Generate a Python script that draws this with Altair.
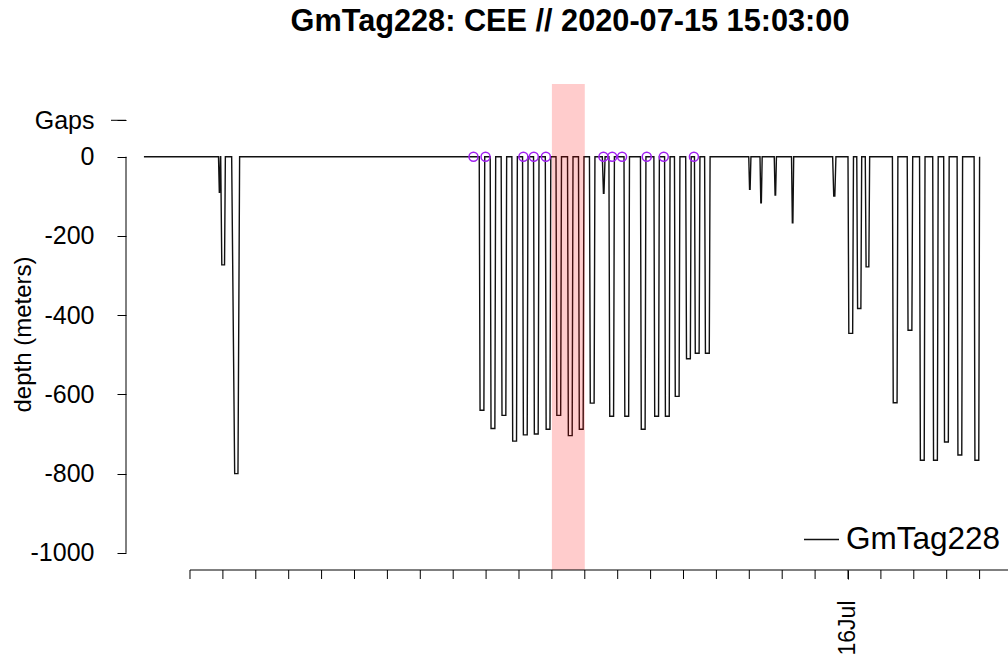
import altair as alt
import pandas as pd

TITLE = "GmTag228: CEE // 2020-07-15 15:03:00"
TAG = "GmTag228"
DAY0 = pd.Timestamp("2020-07-15 00:00:00")
FONT = "Liberation Sans"

# All times are minutes after 2020-07-15 00:00 (local time).
record_start = 156

# One entry per dive: leave surface, reach bottom, leave bottom, back at surface, max depth (m)
dive_leave = [292, 296, 316,
              767.5, 787.5, 807.5, 827, 846.5, 866.5, 888, 907.5, 928.5, 948.5, 968.5,
              992, 1004, 1031.5, 1061.5, 1086, 1105.5, 1123.5, 1144, 1160, 1178.5,
              1259, 1279.5, 1305.5, 1337, 1412, 1440, 1456, 1471.5, 1521, 1548,
              1570.5, 1594.5, 1614.5, 1639, 1670]
dive_bottom_in = [293.5, 298, 321.5,
                  769, 789, 809, 828.5, 848, 868, 889.5, 909, 930, 950, 970,
                  994, 1005.5, 1033, 1063, 1087.5, 1107, 1125, 1145.5, 1161.5, 1180,
                  1260.5, 1281, 1307, 1338.5, 1414, 1441.5, 1457.5, 1473, 1522.5, 1549.5,
                  1572, 1596, 1616, 1640.5, 1671.5]
dive_bottom_out = [294, 303, 327.5,
                   776, 796, 816, 835.5, 855, 875, 896.5, 916, 937, 957, 977,
                   995, 1012.5, 1040, 1070, 1094.5, 1114, 1132, 1152.5, 1168.5, 1187,
                   1261.5, 1282, 1308, 1339.5, 1416, 1448.5, 1463.5, 1478, 1529.5, 1556.5,
                   1579, 1603, 1623, 1647.5, 1678.5]
dive_return = [295.5, 304.5, 330.5,
               777.5, 797.5, 817.5, 837, 856.5, 876.5, 898, 917.5, 938.5, 958.5, 978.5,
               997, 1014, 1041.5, 1071.5, 1096, 1115.5, 1133.5, 1154, 1170, 1188.5,
               1263, 1283.5, 1309.5, 1341, 1418, 1450, 1465, 1479.5, 1531, 1558,
               1580.5, 1604.5, 1624.5, 1649, 1680]
dive_max = [-90, -273, -800,
            -640, -686, -653, -718, -702, -700, -688, -653, -704, -688, -622,
            -92, -655, -655, -688, -655, -655, -605, -510, -496, -496,
            -82, -116, -97, -167, -99, -446, -383, -278, -621, -438,
            -766, -766, -720, -753, -766]

# Transmission gaps, marked on the surface line
gap_minutes = [757, 779, 848, 867, 889, 994, 1010, 1028, 1073, 1104, 1159]

# Highlighted hour and the plotting window
highlight_from, highlight_to = 900, 960
window_from, window_to = 123.3, 1731.8

# Hour marks along the time axis (hours after 2020-07-15 00:00)
hour_marks = list(range(4, 29))

y_ticks = [0, -200, -400, -600, -800, -1000]
gaps_level = 92


def stamp(minutes):
    return (DAY0 + pd.to_timedelta(minutes, unit="m")).strftime("%Y-%m-%dT%H:%M:%S")


def dt(minutes):
    ts = DAY0 + pd.to_timedelta(minutes, unit="m")
    return alt.DateTime(year=ts.year, month=ts.month, date=ts.day,
                        hours=ts.hour, minutes=ts.minute, seconds=ts.second)


rows = [(record_start, 0.0)]
for a, b, c, d, depth in zip(dive_leave, dive_bottom_in, dive_bottom_out, dive_return, dive_max):
    rows += [(a, 0.0), (b, depth), (c, depth), (d, 0.0)]
track = pd.DataFrame({
    "time": [stamp(m) for m, _ in rows],
    "depth": [v for _, v in rows],
    "i": range(len(rows)),
    "tag": TAG,
})
gaps = pd.DataFrame({"time": [stamp(m) for m in gap_minutes], "depth": 0.0})
hours_df = pd.DataFrame({"time": [stamp(60 * h) for h in hour_marks]})

W, H = 882, 486

x_scale = alt.Scale(domain=[dt(window_from), dt(window_to)])
y_scale = alt.Scale(domain=[-1043.2, 183.6], nice=False, zero=False)

x_axis = alt.Axis(values=[dt(24 * 60)], labelExpr="timeFormat(datum.value, '%d%b')",
                  labelAngle=270, labelFontSize=23, labelFont=FONT, labelColor="black",
                  labelPadding=21, tickSize=9, tickColor="black", tickWidth=1,
                  domain=False, grid=False, title=None, labelOverlap=False, labelFlush=False)
y_axis = alt.Axis(values=[gaps_level] + y_ticks,
                  labelExpr="datum.value > 50 ? 'Gaps' : '' + datum.value",
                  labelFontSize=25, labelFont=FONT, labelColor="black", labelPadding=23,
                  tickSize=9, tickColor="black", tickWidth=1, domain=False, grid=False,
                  title="depth (meters)", titleFontSize=24, titleFont=FONT, titleFontWeight="normal",
                  titleColor="black", titleAngle=270, titleX=-103, titleY=250,
                  titleAlign="center", titleBaseline="middle", labelOverlap=False)

line = alt.Chart(track).mark_line(strokeWidth=1.4, interpolate="linear", color="black").encode(
    x=alt.X("time:T", scale=x_scale, axis=x_axis),
    y=alt.Y("depth:Q", scale=y_scale, axis=y_axis),
    order="i:Q",
    color=alt.Color("tag:N", scale=alt.Scale(range=["#111111"]),
                    legend=alt.Legend(title=None, orient="none", legendX=677, legendY=437,
                                      symbolType="stroke", symbolSize=1225, symbolStrokeWidth=1.3,
                                      symbolStrokeColor="black", labelFontSize=31.5, labelFont=FONT,
                                      labelColor="black", labelOffset=6, padding=0)),
)

gap_marks = alt.Chart(gaps).mark_point(shape="circle", filled=False, color="#A020F0",
                                       size=81, strokeWidth=1.5, opacity=1).encode(
    x="time:T", y="depth:Q")

shade = alt.Chart().mark_rect(color="red", opacity=0.2).encode(
    x=alt.datum(dt(highlight_from)), x2=alt.datum(dt(highlight_to)),
    y=alt.value(0), y2=alt.value(H))

hour_ticks = alt.Chart(hours_df).mark_rule(color="black", strokeWidth=1).encode(
    x="time:T", y=alt.value(H), y2=alt.value(H + 9))

y_line = alt.Chart().mark_rule(color="black", strokeWidth=1).encode(
    x=alt.value(0), y=alt.datum(0), y2=alt.datum(-1000))
gaps_tick = alt.Chart().mark_rule(color="black", strokeWidth=1).encode(
    x=alt.value(-15), x2=alt.value(0), y=alt.datum(gaps_level))
x_line = alt.Chart().mark_rule(color="black", strokeWidth=1).encode(
    x=alt.datum(dt(240)), x2=alt.value(W), y=alt.value(H))

chart = alt.layer(line, gap_marks, shade, hour_ticks, y_line, gaps_tick, x_line).properties(
    width=W, height=H,
    title=alt.TitleParams(TITLE, fontSize=30.7, fontWeight="bold", font=FONT, color="black",
                          anchor="middle", offset=46, dx=3),
    autosize=alt.AutoSizeParams(type="none"),
    padding={"left": 126, "top": 84, "right": 0, "bottom": 94},
).configure(font=FONT).configure_view(strokeWidth=0, stroke="transparent")

chart.save("out.html", embed_options={"renderer": "svg", "actions": False})
